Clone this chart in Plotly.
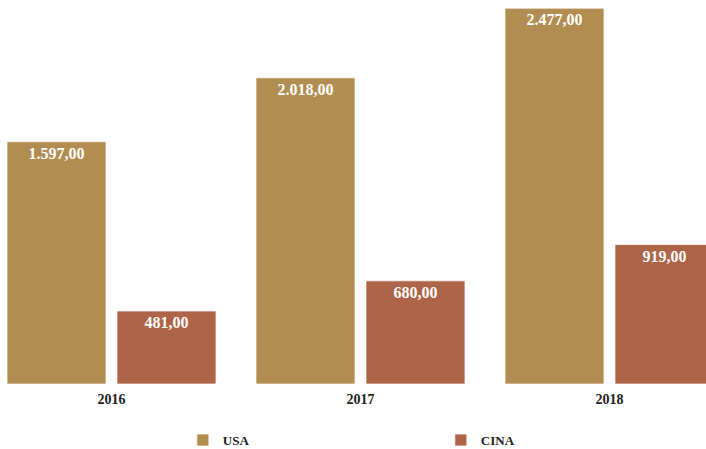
import plotly.graph_objects as go

years = ["2016", "2017", "2018"]
usa = [1597, 2018, 2477]
cina = [481, 680, 919]

usa_color = "#B28D52"
cina_color = "#AE6547"
font_family = "Liberation Serif, Times New Roman, serif"

fig = go.Figure()
for name, vals, col in [("USA", usa, usa_color), ("CINA", cina, cina_color)]:
    fig.add_trace(go.Bar(
        x=years, y=vals, name=name,
        marker=dict(color=col, line=dict(color="rgba(255,255,255,0.7)", width=1)),
        texttemplate="%{y:,.2f}",
        textposition="inside",
        insidetextanchor="end",
        constraintext="none",
        textfont=dict(family=font_family, size=16, color="white", weight="bold"),
    ))

fig.update_layout(
    width=706, height=449,
    margin=dict(l=0, r=0, t=0, b=65, autoexpand=False),
    paper_bgcolor="white", plot_bgcolor="white",
    separators=",.",
    barmode="group",
    bargap=0.1165,
    bargroupgap=0.1,
    font=dict(family=font_family, color="#222222"),
    showlegend=True,
    legend=dict(
        orientation="h",
        x=0.259, xanchor="left",
        y=-0.146, yanchor="middle",
        entrywidth=213, entrywidthmode="pixels",
        font=dict(family=font_family, size=13, color="#222222", weight="bold"),
        traceorder="normal",
    ),
)
fig.update_xaxes(
    type="category",
    range=[-0.4478, 2.3876],
    showline=False, showgrid=False, zeroline=False, ticks="",
    ticklabelstandoff=5,
    tickfont=dict(family=font_family, size=14, color="#222222", weight="bold"),
)
fig.update_yaxes(
    range=[0, 2531],
    visible=False, showgrid=False, zeroline=False,
)

fig.write_html("out.html")
